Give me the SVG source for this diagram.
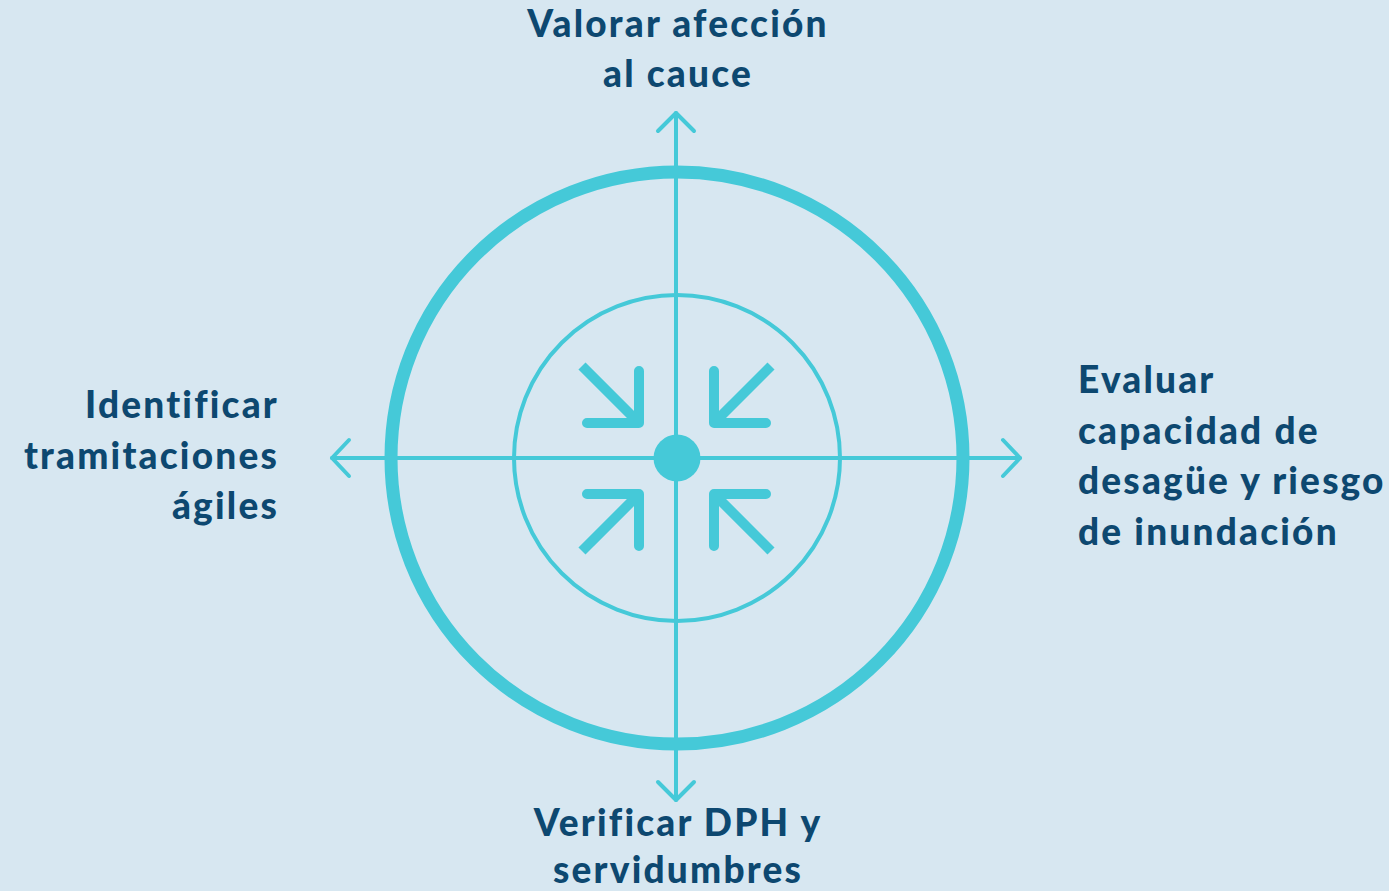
<svg xmlns="http://www.w3.org/2000/svg" width="1389" height="891" viewBox="0 0 1389 891">
  <style>
    .lbl { font-family: Lato, "Open Sans", "Liberation Sans", sans-serif; font-weight: 900; font-size: 37px; letter-spacing: 2.2px; fill: #0d4870; }
    .ax { stroke: #45c9d8; stroke-width: 4; fill: none; stroke-linecap: round; stroke-linejoin: round; }
    .ptr { stroke: #45c9d8; stroke-width: 10; fill: none; }
  </style>
  <defs>
    <g id="pointer">
      <path class="ptr" d="M-57,-57 L-3,-3" stroke-linecap="butt"/>
      <path class="ptr" d="M0,-52 L0,0 L-52,0" stroke-linecap="round" stroke-linejoin="round"/>
    </g>
  </defs>
  <rect width="1389" height="891" fill="#d7e7f1"/>
  <g id="connectors">
    <path class="ax" d="M676,113 L676,800"/>
    <path class="ax" d="M332,458 L1020,458"/>
    <path class="ax" d="M658,131 L676,113 L694,131"/>
    <path class="ax" d="M658,782 L676,800 L694,782"/>
    <path class="ax" d="M349,440 L332,458 L349,476"/>
    <path class="ax" d="M1003,440 L1020,458 L1003,476"/>
  </g>
  <g id="target">
    <circle cx="677" cy="458" r="286" fill="none" stroke="#45c9d8" stroke-width="13"/>
    <circle cx="677" cy="458" r="163" fill="none" stroke="#45c9d8" stroke-width="4"/>
    <circle cx="677" cy="458" r="23.5" fill="#45c9d8"/>
  </g>
  <g id="pointers">
    <use href="#pointer" transform="translate(639,423)"/>
    <use href="#pointer" transform="translate(714,423) scale(-1,1)"/>
    <use href="#pointer" transform="translate(639,494) scale(1,-1)"/>
    <use href="#pointer" transform="translate(714,494) scale(-1,-1)"/>
  </g>
  <g id="node-top">
    <text class="lbl" x="678" y="37" text-anchor="middle">Valorar afección</text>
    <text class="lbl" x="678" y="87" text-anchor="middle">al cauce</text>
  </g>
  <g id="node-left">
    <text class="lbl" x="279" y="418" text-anchor="end">Identificar</text>
    <text class="lbl" x="279" y="469" text-anchor="end">tramitaciones</text>
    <text class="lbl" x="279" y="519" text-anchor="end">ágiles</text>
  </g>
  <g id="node-right">
    <text class="lbl" x="1078" y="393">Evaluar</text>
    <text class="lbl" x="1078" y="444">capacidad de</text>
    <text class="lbl" x="1078" y="494">desagüe y riesgo</text>
    <text class="lbl" x="1078" y="545">de inundación</text>
  </g>
  <g id="node-bottom">
    <text class="lbl" x="678" y="836" text-anchor="middle">Verificar DPH y</text>
    <text class="lbl" x="678" y="883" text-anchor="middle">servidumbres</text>
  </g>
</svg>
